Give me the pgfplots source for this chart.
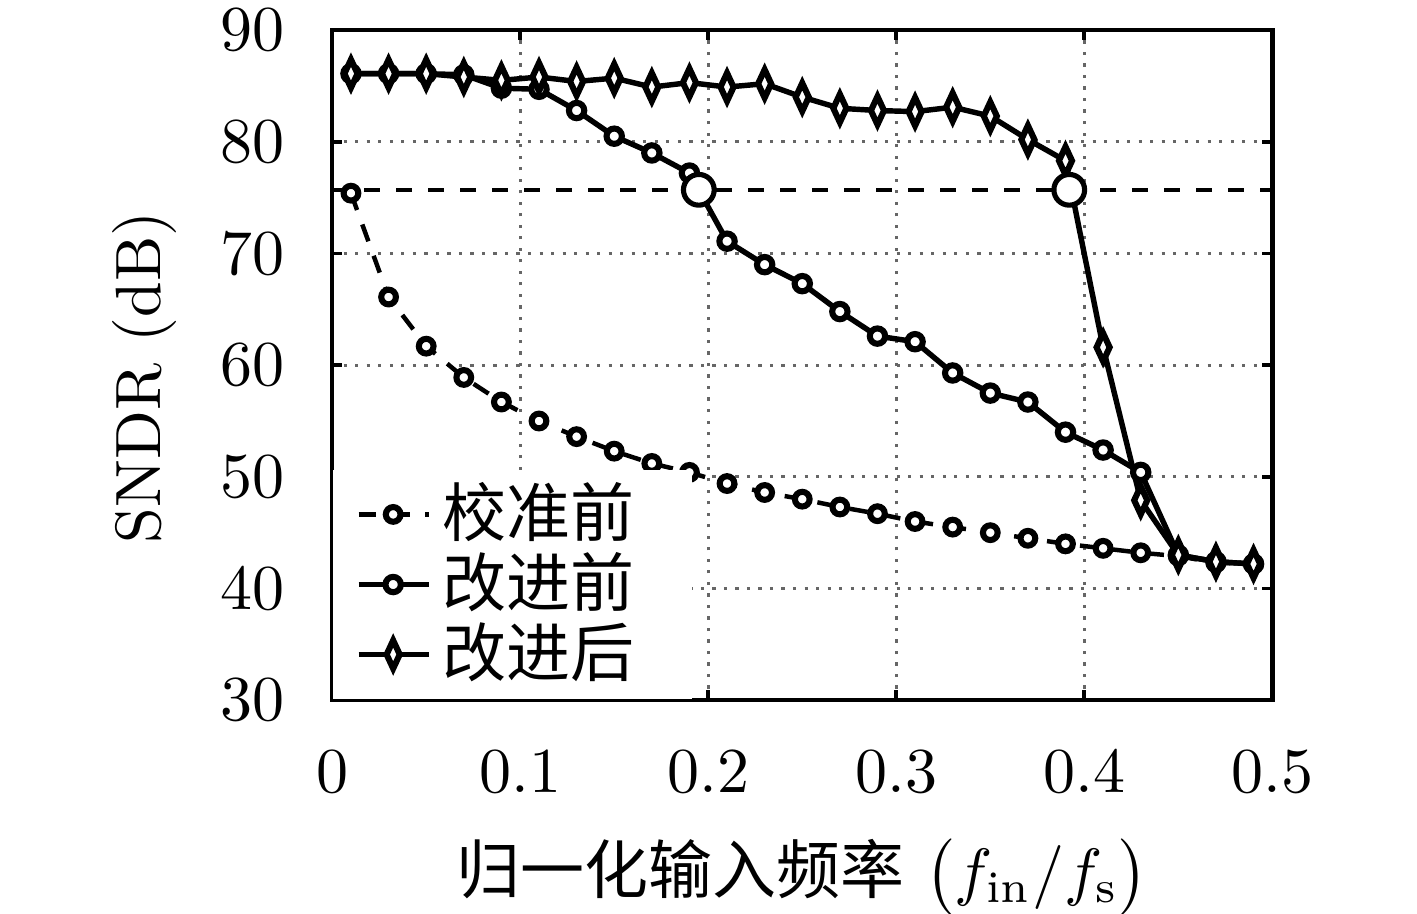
\documentclass[border=0pt]{standalone}
\usepackage{fontspec}
\usepackage{pgfplots}
\pgfplotsset{compat=1.18}
\newfontfamily\cjk{Noto Sans CJK SC}

\pgfplotstableread{
x y
0.01 75.4
0.03 66.1
0.05 61.7
0.07 58.9
0.09 56.7
0.11 55.0
0.13 53.6
0.15 52.3
0.17 51.2
0.19 50.4
0.21 49.4
0.23 48.6
0.25 48.0
0.27 47.3
0.29 46.7
0.31 46.0
0.33 45.5
0.35 45.0
0.37 44.5
0.39 44.0
0.41 43.6
0.43 43.2
0.45 42.9
0.47 42.3
0.49 42.2
}\before

\pgfplotstableread{
x y
0.01 86.1
0.03 86.1
0.05 86.1
0.07 86.0
0.09 84.8
0.11 84.7
0.13 82.8
0.15 80.5
0.17 79.0
0.19 77.2
0.21 71.1
0.23 69.0
0.25 67.3
0.27 64.8
0.29 62.6
0.31 62.1
0.33 59.3
0.35 57.5
0.37 56.7
0.39 54.0
0.41 52.4
0.43 50.4
0.45 43.0
0.47 42.4
0.49 42.2
}\oldimp

\pgfplotstableread{
x y
0.01 86.1
0.03 86.1
0.05 86.1
0.07 85.8
0.09 85.5
0.11 85.8
0.13 85.4
0.15 85.7
0.17 84.9
0.19 85.3
0.21 84.9
0.23 85.2
0.25 84.0
0.27 83.0
0.29 82.8
0.31 82.7
0.33 83.1
0.35 82.3
0.37 80.2
0.39 78.3
0.41 61.6
0.43 47.9
0.45 43.0
0.47 42.4
0.49 42.2
}\newimp

\begin{document}
\begin{tikzpicture}
\begin{axis}[
  at={(0,0)}, anchor=south west,
  scale only axis, width=146.9pt, height=104.7pt,
  xmin=0, xmax=0.5, ymin=30, ymax=90,
  xtick={0,0.1,0.2,0.3,0.4,0.5},
  ytick={30,40,50,60,70,80,90},
  tick pos=both, tick align=inside,
  major tick length=1.6pt,
  tick style={black, line width=0.6pt},
  axis line style={black, line width=0.7pt},
  grid=major,
  major grid style={black!60, line width=0.5pt, dash pattern=on 0.5pt off 1.3pt},
  xticklabel style={anchor=base, inner sep=0pt, yshift=-14.4pt},
  yticklabel style={anchor=east, inner sep=0pt, xshift=-7.3pt},
  xlabel={{\cjk 归一化输入频率} $\bigl(f_{\mathrm{in}}/f_{\mathrm{s}}\bigr)$},
  xlabel style={at={(axis description cs:0.5,-0.288)}, anchor=base, inner sep=0pt},
  ylabel={SNDR (dB)},
  ylabel style={at={(axis description cs:-0.183,0.482)}, anchor=base, inner sep=0pt},
  legend cell align=left,
  legend style={at={(axis cs:0,30)}, anchor=south west, fill=white, draw=none,
    inner xsep=3.5pt, inner ysep=1.5pt, row sep=0pt,
    nodes={inner sep=0.5pt}, font=\cjk,
    /tikz/every odd column/.append style={column sep=1.2pt}},
  legend image code/.code={\draw[mark repeat=2, mark phase=2] plot coordinates {(0cm,0cm) (0.19cm,0cm) (0.385cm,0cm)};},
]
\addplot[black, line width=0.6pt, dash pattern=on 2.4pt off 2.6pt, forget plot] coordinates {(0,75.7) (0.5,75.7)};
\addplot[black, line width=0.7pt, dash pattern=on 2.8pt off 2.4pt, mark=*, mark size=1.15pt,
  mark options={solid, fill=white, line width=0.95pt}] table {\before};
\addlegendentry{校准前\hspace*{5pt}}
\addplot[black, line width=0.85pt, mark=*, mark size=1.2pt,
  mark options={solid, fill=white, line width=0.95pt}] table {\oldimp};
\addlegendentry{改进前\hspace*{5pt}}
\addplot[black, line width=0.85pt, mark=diamond*, mark size=2.2pt,
  mark options={solid, fill=white, line width=0.95pt, xscale=0.62}] table {\newimp};
\addlegendentry{改进后\hspace*{5pt}}
\addplot[only marks, black, mark=*, mark size=2.4pt,
  mark options={fill=white, line width=0.8pt}, forget plot] coordinates {(0.195,75.7) (0.392,75.7)};
\end{axis}
\pgfresetboundingbox
\path[use as bounding box] (-51.9pt,-33.4pt) rectangle (169.5pt,109.4pt);
\end{tikzpicture}
\end{document}
